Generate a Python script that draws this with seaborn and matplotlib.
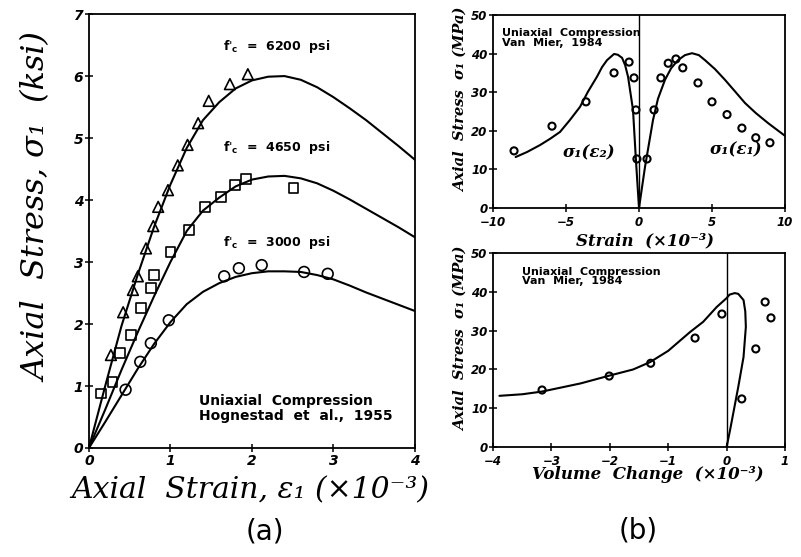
import seaborn as sns
import matplotlib.pyplot as plt

# ---- data ----
# (a) Hognestad et al. 1955, axial strain (x1e-3) vs stress (ksi)
tri_x = [0.27, 0.42, 0.54, 0.60, 0.70, 0.79, 0.85, 0.97, 1.09, 1.21, 1.34, 1.47, 1.73, 1.95]
tri_y = [1.50, 2.19, 2.55, 2.77, 3.22, 3.58, 3.89, 4.16, 4.56, 4.89, 5.24, 5.60, 5.87, 6.03]
sq_x = [0.15, 0.29, 0.38, 0.52, 0.64, 0.76, 0.80, 1.00, 1.23, 1.42, 1.62, 1.79, 1.93, 2.51]
sq_y = [0.88, 1.06, 1.53, 1.82, 2.26, 2.58, 2.79, 3.16, 3.52, 3.89, 4.05, 4.24, 4.34, 4.19]
cir_x = [0.45, 0.63, 0.76, 0.98, 1.66, 1.84, 2.12, 2.64, 2.93]
cir_y = [0.94, 1.39, 1.69, 2.06, 2.77, 2.90, 2.95, 2.84, 2.81]

eps = [0, 0.2, 0.4, 0.6, 0.8, 1.0, 1.2, 1.4, 1.6, 1.8, 2.0, 2.2, 2.4, 2.6, 2.8, 3.0, 3.2, 3.4, 3.6, 3.8, 4.0]
s6200 = [0, 1.00, 1.97, 2.80, 3.57, 4.25, 4.84, 5.29, 5.58, 5.80, 5.93, 5.99, 6.00, 5.94, 5.82, 5.66, 5.48, 5.29, 5.08, 4.87, 4.65]
s4650 = [0, 0.62, 1.26, 1.87, 2.45, 3.00, 3.50, 3.83, 4.04, 4.22, 4.33, 4.38, 4.39, 4.35, 4.27, 4.15, 4.01, 3.86, 3.71, 3.56, 3.40]
s3000 = [0, 0.42, 0.85, 1.28, 1.68, 2.03, 2.32, 2.52, 2.66, 2.76, 2.82, 2.85, 2.85, 2.84, 2.79, 2.72, 2.62, 2.51, 2.41, 2.31, 2.21]
fc_labels = ["6200", "4650", "3000"]
fc_label_y = [6.47, 4.85, 3.32]

# (b) Van Mier 1984, strain (x1e-3) vs stress (MPa)
vm_x = [-8.56, -5.96, -3.63, -1.71, -0.68, -0.34, -0.21, -0.14, 0.55, 1.03,
        1.50, 2.00, 2.53, 3.00, 4.04, 5.00, 6.03, 7.05, 8.00, 8.97]
vm_y = [14.8, 21.2, 27.5, 35.0, 37.8, 33.7, 25.4, 12.7, 12.7, 25.4,
        33.7, 37.5, 38.6, 36.3, 32.4, 27.5, 24.2, 20.7, 18.2, 16.9]
lat_x = [-8.45, -7.67, -6.78, -6.10, -5.41, -4.73, -4.04, -3.50, -2.88, -2.53, -2.19, -1.71,
         -1.45, -1.16, -0.95, -0.75, -0.41, -0.21, 0.0]
lat_y = [13.2, 14.5, 16.3, 17.9, 19.7, 22.8, 26.2, 30.1, 34.0, 36.5, 38.3, 39.9,
         39.7, 38.9, 37.0, 34.0, 25.4, 12.4, 0.0]
axl_x = [0.0, 0.41, 0.96, 1.30, 1.78, 2.20, 2.67, 3.15, 3.63, 4.10, 4.52, 5.20, 5.89,
         6.60, 7.26, 8.00, 8.84, 9.40, 10.0]
axl_y = [0.0, 10.6, 22.8, 28.3, 33.2, 36.2, 38.3, 39.6, 40.1, 39.6, 38.3, 36.0, 33.2,
         30.1, 27.2, 24.6, 22.0, 20.4, 18.7]

# volume change (x1e-3) vs stress (MPa)
vc_x = [-3.16, -2.01, -1.30, -0.54, -0.08, 0.26, 0.50, 0.66, 0.76]
vc_y = [14.7, 18.3, 21.6, 28.1, 34.3, 12.4, 25.3, 37.4, 33.3]
vol_x = [0.0, 0.06, 0.20, 0.29, 0.33, 0.32, 0.29, 0.20, 0.14, 0.05, 0.0, -0.17, -0.40,
         -0.63, -1.0, -1.31, -1.6, -2.01, -2.5, -3.16, -3.5, -3.89]
vol_y = [0.0, 4.4, 15.5, 23.2, 31.0, 35.0, 37.9, 39.5, 39.7, 39.3, 38.4, 36.1, 32.3,
         29.6, 24.8, 21.9, 20.0, 18.4, 16.4, 14.3, 13.6, 13.2]

# ---- style ----
sns.set_theme(style="ticks")
plt.rcParams['font.family'] = ['DejaVu Sans']
plt.rcParams['axes.edgecolor'] = 'black'
plt.rcParams['axes.labelcolor'] = 'black'
plt.rcParams['text.color'] = 'black'
plt.rcParams['xtick.color'] = 'black'
plt.rcParams['ytick.color'] = 'black'

fig = plt.figure(figsize=(8.01, 5.57), dpi=100)
ax1 = fig.add_axes([0.111, 0.1957, 0.407, 0.779])
ax2 = fig.add_axes([0.6155, 0.6266, 0.3645, 0.3465])
ax3 = fig.add_axes([0.6155, 0.1975, 0.3645, 0.348])

line_kw = dict(color='black', linewidth=1.5, sort=False, estimator=None)
open_kw = dict(facecolor='none', edgecolor='black', legend=False)

# (a)
for s in [s6200, s4650, s3000]:
    sns.lineplot(x=eps, y=s, ax=ax1, **line_kw)
sns.scatterplot(x=tri_x, y=tri_y, ax=ax1, marker='^', s=60, linewidth=1.2, **open_kw)
sns.scatterplot(x=sq_x, y=sq_y, ax=ax1, marker='s', s=50, linewidth=1.2, **open_kw)
sns.scatterplot(x=cir_x, y=cir_y, ax=ax1, marker='o', s=60, linewidth=1.2, **open_kw)
for lab, yy in zip(fc_labels, fc_label_y):
    ax1.text(1.64, yy, r"f$'_\mathbf{c}$  =  " + lab + "  psi", fontsize=9, fontweight='bold',
             va='center', ha='left', math_fontfamily='dejavusans')
ax1.text(1.35, 0.64, "Uniaxial  Compression\nHognestad  et  al.,  1955", fontsize=10,
         fontweight='bold', va='center', ha='left', linespacing=1.05)
ax1.set_xlim(0, 4)
ax1.set_ylim(0, 7)
ax1.set_xticks(range(0, 5))
ax1.set_yticks(range(0, 8))
ax1.set_xlabel("Axial  Strain, ε₁ (×10⁻³)", family='DejaVu Serif', style='italic', fontsize=21.5)
ax1.set_ylabel("Axial  Stress, σ₁  (ksi)", family='DejaVu Serif', style='italic', fontsize=23)
ax1.xaxis.set_label_coords(0.494, -0.065)
ax1.yaxis.set_label_coords(-0.11, 0.555)

# (b) top
sns.lineplot(x=lat_x, y=lat_y, ax=ax2, **line_kw)
sns.lineplot(x=axl_x, y=axl_y, ax=ax2, **line_kw)
sns.scatterplot(x=vm_x, y=vm_y, ax=ax2, marker='o', s=26, linewidth=1.5, **open_kw)
ax2.axvline(0, color='black', linewidth=1.0)
ax2.text(-9.4, 46.5, "Uniaxial  Compression\nVan  Mier,  1984", fontsize=8, fontweight='bold',
         va='top', ha='left', linespacing=0.95)
ax2.text(-5.2, 14.2, "σ₁(ε₂)", family='DejaVu Serif', style='italic', fontweight='bold',
         fontsize=12, va='center', ha='left')
ax2.text(4.86, 15.0, "σ₁(ε₁)", family='DejaVu Serif', style='italic', fontweight='bold',
         fontsize=12, va='center', ha='left')
ax2.set_xlim(-10, 10)
ax2.set_ylim(0, 50)
ax2.set_xticks([-10, -5, 0, 5, 10])
ax2.set_yticks([0, 10, 20, 30, 40, 50])
ax2.set_xlabel("Strain  (×10⁻³)", family='DejaVu Serif', style='italic', fontweight='bold', fontsize=12)
ax2.set_ylabel("Axial  Stress  σ₁ (MPa)", family='DejaVu Serif', style='italic', fontweight='bold', fontsize=10.5)
ax2.xaxis.set_label_coords(0.52, -0.125)
ax2.yaxis.set_label_coords(-0.085, 0.56)

# (b) bottom
sns.lineplot(x=vol_x, y=vol_y, ax=ax3, **line_kw)
sns.scatterplot(x=vc_x, y=vc_y, ax=ax3, marker='o', s=26, linewidth=1.5, **open_kw)
ax3.axvline(0, color='black', linewidth=1.0)
ax3.text(-3.5, 46.5, "Uniaxial  Compression\nVan  Mier,  1984", fontsize=8, fontweight='bold',
         va='top', ha='left', linespacing=0.9)
ax3.set_xlim(-4, 1)
ax3.set_ylim(0, 50)
ax3.set_xticks([-4, -3, -2, -1, 0, 1])
ax3.set_yticks([0, 10, 20, 30, 40, 50])
ax3.set_xlabel("Volume  Change  (×10⁻³)", family='DejaVu Serif', style='italic', fontweight='bold', fontsize=12)
ax3.set_ylabel("Axial  Stress  σ₁ (MPa)", family='DejaVu Serif', style='italic', fontweight='bold', fontsize=10.5)
ax3.xaxis.set_label_coords(0.53, -0.1)
ax3.yaxis.set_label_coords(-0.085, 0.56)

for ax, fs in [(ax1, 10), (ax2, 8.5), (ax3, 8.5)]:
    for sp in ax.spines.values():
        sp.set_visible(True)
        sp.set_linewidth(1.3)
        sp.set_color('black')
    ax.tick_params(direction='inout', length=6, width=1.1, labelsize=fs, pad=1)
    if ax is not ax1:
        ax.tick_params(axis='x', pad=2.5)
    for lbl in ax.get_xticklabels() + ax.get_yticklabels():
        lbl.set_fontweight('bold')
        lbl.set_fontstyle('italic')

fig.text(0.331, 0.045, "(a)", fontsize=20, ha='center', va='center')
fig.text(0.797, 0.048, "(b)", fontsize=20, ha='center', va='center')

fig.savefig("out.png", dpi=100)
